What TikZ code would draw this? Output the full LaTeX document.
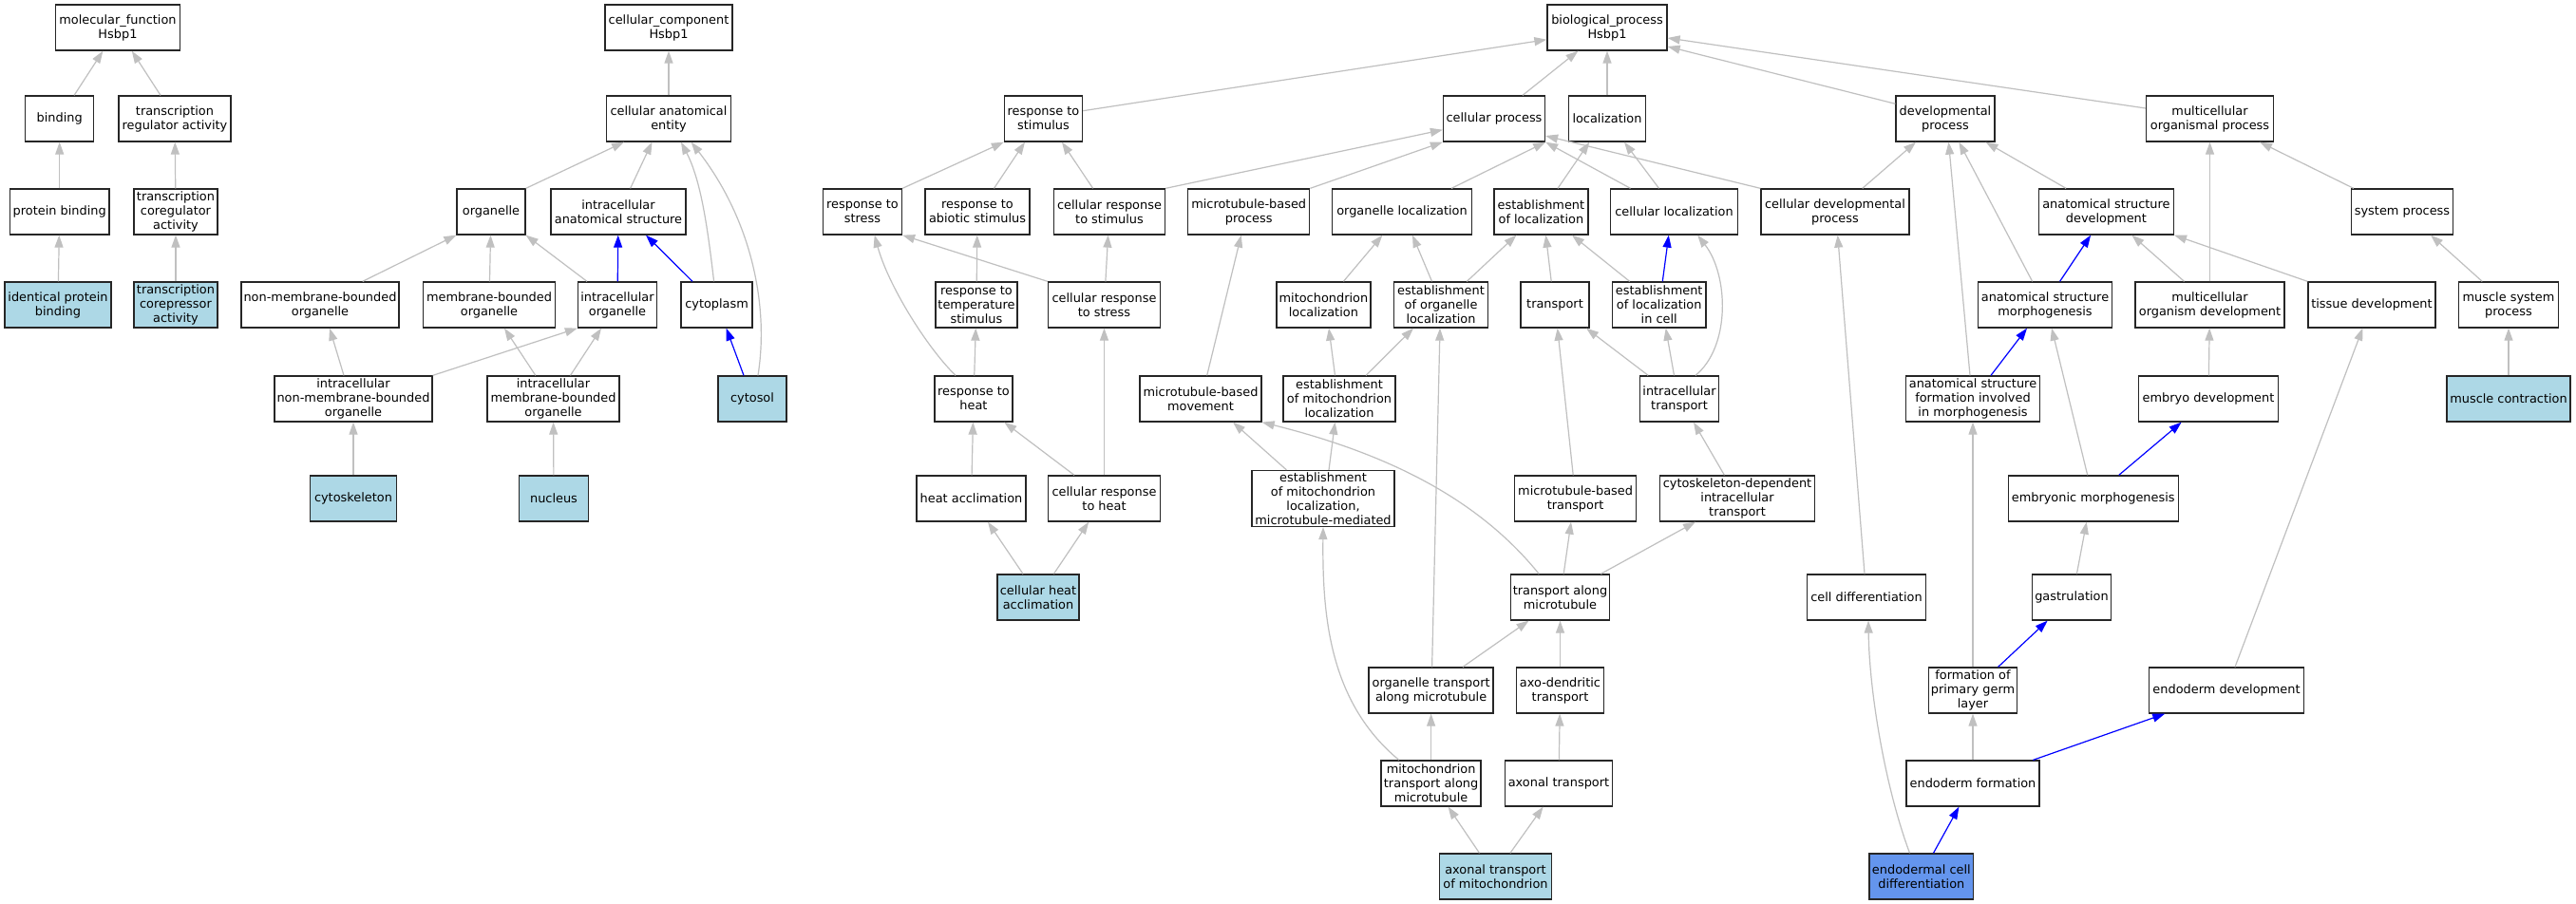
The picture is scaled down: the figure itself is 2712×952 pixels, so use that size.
\documentclass[tikz,border=0pt]{standalone}
\usepackage{fontspec}
\setmainfont{DejaVu Sans}
\usetikzlibrary{arrows.meta}
\definecolor{eg}{HTML}{C0C0C0}
\definecolor{lb}{HTML}{ADD8E6}
\definecolor{cb}{HTML}{6495ED}
\definecolor{bl}{HTML}{0000FF}
\tikzset{
  box/.style={draw=black!85, line width=1.3pt, rectangle, align=center, inner xsep=1pt, inner ysep=2pt,
    minimum height=48pt, font=\fontsize{12.9}{15}\selectfont, fill=white},
  hl/.style={fill=lb},
  hc/.style={fill=cb},
  ge/.style={draw=eg, line width=1.2pt, -{Triangle[length=13pt,width=9pt]}},
  be/.style={ge, draw=bl}
}
\begin{document}
\begin{tikzpicture}[x=1pt,y=-1pt]
\fill[white] (0,0) rectangle (2712,952);
\useasboundingbox (0,0) rectangle (2712,952);
% ---------- molecular function ----------
\node[box,minimum width=131pt] (mf) at (124,29) {molecular\_function\\Hsbp1};
\node[box,minimum width=72pt] (binding) at (62.7,125) {binding};
\node[box,minimum width=118pt] (trreg) at (184,125) {transcription\\regulator activity};
\node[box,minimum width=104.5pt] (protbind) at (62.7,223) {protein binding};
\node[box,minimum width=88pt] (trcoreg) at (185,223) {transcription\\coregulator\\activity};
\node[box,hl,minimum width=112pt] (idprot) at (61,321) {identical protein\\binding};
\node[box,hl,minimum width=88pt] (trcorep) at (185,321) {transcription\\corepressor\\activity};
% ---------- cellular component ----------
\node[box,minimum width=134pt] (cc) at (704,29) {cellular\_component\\Hsbp1};
\node[box,minimum width=131pt] (cae) at (704,125) {cellular anatomical\\entity};
\node[box,minimum width=72pt] (organelle) at (517,223) {organelle};
\node[box,minimum width=142pt] (ias) at (651,223) {intracellular\\anatomical structure};
\node[box,minimum width=166pt] (nmbo) at (337,321) {non-membrane-bounded\\organelle};
\node[box,minimum width=139pt] (mbo) at (515,321) {membrane-bounded\\organelle};
\node[box,minimum width=83pt] (io) at (650,321) {intracellular\\organelle};
\node[box,minimum width=75pt] (cytoplasm) at (754.6,321) {cytoplasm};
\node[box,minimum width=166pt] (inmbo) at (372,420) {intracellular\\non-membrane-bounded\\organelle};
\node[box,minimum width=139pt] (imbo) at (582.5,420) {intracellular\\membrane-bounded\\organelle};
\node[box,hl,minimum width=72pt] (cytosol) at (792,420) {cytosol};
\node[box,hl,minimum width=91pt] (cytoskeleton) at (372,525) {cytoskeleton};
\node[box,hl,minimum width=72.5pt] (nucleus) at (583,525) {nucleus};
% ---------- biological process ----------
\node[box,minimum width=126pt] (bp) at (1692,29) {biological\_process\\Hsbp1};
\node[box,minimum width=82pt] (rstim) at (1098.5,125) {response to\\stimulus};
\node[box,minimum width=107pt] (cp) at (1573,125) {cellular process};
\node[box,minimum width=81pt] (loc) at (1692,125) {localization};
\node[box,minimum width=104pt] (dev) at (2048,125) {developmental\\process};
\node[box,minimum width=134pt] (mop) at (2326.5,125) {multicellular\\organismal process};
\node[box,minimum width=83pt] (rstress) at (908,223) {response to\\stress};
\node[box,minimum width=110pt] (rabio) at (1029,223) {response to\\abiotic stimulus};
\node[box,minimum width=117pt] (crstim) at (1168,223) {cellular response\\to stimulus};
\node[box,minimum width=128pt] (mbp) at (1314.7,223) {microtubule-based\\process};
\node[box,minimum width=147pt] (orgloc) at (1476,223) {organelle localization};
\node[box,minimum width=99pt] (estloc) at (1622.4,223) {establishment\\of localization};
\node[box,minimum width=134pt] (cellloc) at (1762.5,223) {cellular localization};
\node[box,minimum width=156pt] (cdp) at (1932,223) {cellular developmental\\process};
\node[box,minimum width=142pt] (asd) at (2217.4,223) {anatomical structure\\development};
\node[box,minimum width=107pt] (sysp) at (2529,223) {system process};
\node[box,minimum width=86pt] (rtemp) at (1028,321) {response to\\temperature\\stimulus};
\node[box,minimum width=118pt] (crstress) at (1162.5,321) {cellular response\\to stress};
\node[box,minimum width=99pt] (mitoloc) at (1393.4,321) {mitochondrion\\localization};
\node[box,minimum width=98.4pt] (estorgloc) at (1517,321) {establishment\\of organelle\\localization};
\node[box,minimum width=72pt] (transport) at (1637,321) {transport};
\node[box,minimum width=98.5pt] (estlocc) at (1746.7,321) {establishment\\of localization\\in cell};
\node[box,minimum width=141pt] (asm) at (2153,321) {anatomical structure\\morphogenesis};
\node[box,minimum width=157pt] (mod) at (2326.5,321) {multicellular\\organism development};
\node[box,minimum width=134pt] (tissue) at (2497,321) {tissue development};
\node[box,minimum width=105pt] (msp) at (2641,321) {muscle system\\process};
\node[box,minimum width=82pt] (rheat) at (1025,420) {response to\\heat};
\node[box,minimum width=128pt] (mbm) at (1264,420) {microtubule-based\\movement};
\node[box,minimum width=118pt] (estmito) at (1410,420) {establishment\\of mitochondrion\\localization};
\node[box,minimum width=83pt] (itrans) at (1768,420) {intracellular\\transport};
\node[box,minimum width=141pt] (asf) at (2077,420) {anatomical structure\\formation involved\\in morphogenesis};
\node[box,minimum width=146.6pt] (embdev) at (2325,420) {embryo development};
\node[box,hl,minimum width=130pt] (muscle) at (2641,420) {muscle contraction};
\node[box,minimum width=115pt] (heatacc) at (1022.5,525) {heat acclimation};
\node[box,minimum width=118pt] (crheat) at (1162.5,525) {cellular response\\to heat};
\node[box,minimum width=150pt] (emlmm) at (1393,525) {establishment\\of mitochondrion\\localization,\\microtubule-mediated};
\node[box,minimum width=128pt] (mbt) at (1658.6,525) {microtubule-based\\transport};
\node[box,minimum width=163.5pt] (cdit) at (1829,525) {cytoskeleton-dependent\\intracellular\\transport};
\node[box,minimum width=179pt] (embmorph) at (2203.7,525) {embryonic morphogenesis};
\node[box,hl,minimum width=86pt] (cha) at (1093,629) {cellular heat\\acclimation};
\node[box,minimum width=104.5pt] (tam) at (1642.5,629) {transport along\\microtubule};
\node[box,minimum width=125pt] (celldiff) at (1965,629) {cell differentiation};
\node[box,minimum width=83pt] (gastr) at (2181,629) {gastrulation};
\node[box,minimum width=131pt] (otam) at (1506.6,727) {organelle transport\\along microtubule};
\node[box,minimum width=91.5pt] (axod) at (1642.5,727) {axo-dendritic\\transport};
\node[box,minimum width=93pt] (fpgl) at (2077,727) {formation of\\primary germ\\layer};
\node[box,minimum width=163pt] (endodev) at (2344,727) {endoderm development};
\node[box,minimum width=105pt] (mtam) at (1506.6,825) {mitochondrion\\transport along\\microtubule};
\node[box,minimum width=113pt] (axonal) at (1641,825) {axonal transport};
\node[box,minimum width=140pt] (endoform) at (2077,825) {endoderm formation};
\node[box,hl,minimum width=117.5pt] (atm) at (1574.5,923) {axonal transport\\of mitochondrion};
\node[box,hc,minimum width=109.5pt] (ecd) at (2022.8,923) {endodermal cell\\differentiation};
% ---------- MF edges ----------
\draw[ge] ([xshift=15.4pt]binding.north) -- ([xshift=-15.6pt]mf.south);
\draw[ge] ([xshift=-15pt]trreg.north) -- ([xshift=14.8pt]mf.south);
\draw[ge] (protbind) -- (binding);
\draw[ge] (trcoreg) -- (trreg);
\draw[ge] (idprot) -- (protbind);
\draw[ge] (trcorep) -- (trcoreg);
% ---------- CC edges ----------
\draw[ge] (cae) -- (cc);
\draw[ge] (organelle.north east) -- ([xshift=-47pt]cae.south);
\draw[ge] ([xshift=12.6pt]ias.north) -- ([xshift=-17.5pt]cae.south);
\draw[ge] ([xshift=-3pt]cytoplasm.north) .. controls (745,240) and (738,190) .. ([xshift=13pt]cae.south);
\draw[ge] ([xshift=6pt]cytosol.north) .. controls (810,320) and (790,230) .. ([xshift=23.7pt]cae.south);
\draw[ge] ([xshift=44.7pt]nmbo.north) -- (organelle.south west);
\draw[ge] (mbo) -- (organelle);
\draw[ge] ([xshift=-32pt]io.north) -- (organelle.south east);
\draw[be] (io) -- (ias);
\draw[be] ([xshift=-25.6pt]cytoplasm.north) -- ([xshift=29pt]ias.south);
\draw[be] ([xshift=-9pt]cytosol.north) -- ([xshift=10pt]cytoplasm.south);
\draw[ge] ([xshift=-10pt]inmbo.north) -- ([xshift=10pt]nmbo.south);
\draw[ge] (inmbo.north east) -- (io.south west);
\draw[ge] ([xshift=-18.7pt]imbo.north) -- ([xshift=16pt]mbo.south);
\draw[ge] ([xshift=18pt]imbo.north) -- ([xshift=-17pt]io.south);
\draw[ge] (cytoskeleton) -- (inmbo);
\draw[ge] (nucleus) -- (imbo);
% ---------- BP edges ----------
\draw[ge] ([yshift=8.3pt]rstim.east) -- ([yshift=-12.7pt]bp.west);
\draw[ge] ([xshift=30pt]cp.north) -- ([xshift=-30.6pt]bp.south);
\draw[ge] (loc) -- (bp);
\draw[ge] ([yshift=15.7pt]dev.west) -- ([yshift=-20pt]bp.east);
\draw[ge] ([yshift=11pt]mop.west) -- ([yshift=-11pt]bp.east);
\draw[ge] (rstress.north east) -- (rstim.south west);
\draw[ge] ([xshift=17.5pt]rabio.north) -- ([xshift=-19.5pt]rstim.south);
\draw[ge] ([xshift=-17.4pt]crstim.north) -- ([xshift=19.5pt]rstim.south);
\draw[ge] (crstim.north east) -- ([yshift=-11.7pt]cp.west);
\draw[ge] (mbp.north east) -- (cp.south west);
\draw[ge] ([xshift=52pt]orgloc.north) -- (cp.south east);
\draw[ge] ([xshift=17.6pt]estloc.north) -- ([xshift=-18.7pt]loc.south);
\draw[ge] ([xshift=-16pt]cellloc.north) -- ([xshift=18pt]loc.south);
\draw[ge] ([xshift=-46pt]cellloc.north) -- (cp.south east);
\draw[ge] (cdp.north west) -- ([yshift=-18pt]cp.east);
\draw[ge] ([xshift=28.7pt]cdp.north) -- ([xshift=-31pt]dev.south);
\draw[ge] ([xshift=21pt]mitoloc.north) -- ([xshift=-20.6pt]orgloc.south);
\draw[ge] ([xshift=-9.5pt]estorgloc.north) -- ([xshift=11pt]orgloc.south);
\draw[ge] ([xshift=27.3pt]estorgloc.north) -- ([xshift=-26pt]estloc.south);
\draw[ge] ([xshift=-3.8pt]transport.north) -- ([xshift=5pt]estloc.south);
\draw[ge] ([xshift=-31pt]estlocc.north) -- ([xshift=32.6pt]estloc.south);
\draw[be] ([xshift=3.6pt]estlocc.north) -- ([xshift=-5.7pt]cellloc.south);
\draw[ge] ([xshift=17pt]itrans.north) .. controls (1822,365) and (1820,290) .. ([xshift=24.7pt]cellloc.south);
\draw[ge] ([xshift=-32.8pt]itrans.north) -- ([xshift=33pt]transport.south);
\draw[ge] ([xshift=-5.5pt]itrans.north) -- ([xshift=7pt]estlocc.south);
\draw[ge] ([xshift=-4.5pt]estmito.north) -- ([xshift=5.6pt]mitoloc.south);
\draw[ge] ([xshift=28pt]estmito.north) -- ([xshift=-29pt]estorgloc.south);
\draw[ge] ([xshift=6pt]emlmm.north) -- ([xshift=-4.5pt]estmito.south);
\draw[ge] ([xshift=1pt]otam.north) -- ([xshift=-1pt]estorgloc.south);
\draw[ge] ([xshift=-22.3pt]tam.north) .. controls (1560,530) and (1470,480) .. (mbm.south east);
\draw[ge] ([xshift=-38.6pt]emlmm.north) -- ([xshift=34pt]mbm.south);
\draw[ge] ([xshift=6.7pt]mbm.north) -- ([xshift=-8pt]mbp.south);
\draw[ge] ([xshift=3.7pt]tam.north) -- ([xshift=-4.6pt]mbt.south);
\draw[ge] ([xshift=42.8pt]tam.north) -- ([xshift=-44pt]cdit.south);
\draw[ge] ([xshift=-2.4pt]mbt.north) -- ([xshift=2.7pt]transport.south);
\draw[ge] ([xshift=-13.6pt]cdit.north) -- ([xshift=15pt]itrans.south);
\draw[ge] ([xshift=33.4pt]otam.north) -- ([xshift=-33pt]tam.south);
\draw[ge] (axod) -- (tam);
\draw[ge] (mtam) -- (otam);
\draw[ge] ([xshift=-33.8pt]mtam.north) .. controls (1400,740) and (1392,650) .. (emlmm.south);
\draw[ge] (axonal) -- (axod);
\draw[ge] ([xshift=-17pt]atm.north) -- ([xshift=18pt]mtam.south);
\draw[ge] ([xshift=15.4pt]atm.north) -- ([xshift=-16.4pt]axonal.south);
% response branch
\draw[ge] ([xshift=-19pt]rheat.north) .. controls (975,365) and (935,300) .. ([xshift=12.7pt]rstress.south);
\draw[ge] (rtemp) -- (rabio);
\draw[ge] (crstress.north west) -- (rstress.south east);
\draw[ge] (crstress) -- (crstim);
\draw[ge] (rheat) -- (rtemp);
\draw[ge] (heatacc) -- (rheat);
\draw[ge] ([xshift=-31.5pt]crheat.north) -- ([xshift=32.3pt]rheat.south);
\draw[ge] (crheat) -- (crstress);
\draw[ge] ([xshift=-16pt]cha.north) -- ([xshift=17.5pt]heatacc.south);
\draw[ge] ([xshift=16.4pt]cha.north) -- ([xshift=-16.3pt]crheat.south);
% developmental branch
\draw[ge] ([xshift=-42.3pt]asd.north) -- ([xshift=42.5pt]dev.south);
\draw[ge] ([xshift=-13.4pt]asm.north) -- ([xshift=14.4pt]dev.south);
\draw[be] ([xshift=15.6pt]asm.north) -- ([xshift=-16.3pt]asd.south);
\draw[ge] ([xshift=-27pt]mod.north) -- ([xshift=27pt]asd.south);
\draw[ge] (mod) -- (mop);
\draw[ge] (tissue.north west) -- (asd.south east);
\draw[ge] ([xshift=3pt]sysp.north west) -- ([xshift=52.5pt]mop.south);
\draw[ge] ([xshift=-27.8pt]msp.north) -- ([xshift=30pt]sysp.south);
\draw[ge] (muscle) -- (msp);
\draw[ge] ([xshift=-3pt]asf.north) -- ([xshift=3.5pt]dev.south);
\draw[be] ([xshift=19pt]asf.north) -- ([xshift=-19pt]asm.south);
\draw[ge] ([xshift=-6pt]embmorph.north) -- ([xshift=7pt]asm.south);
\draw[be] ([xshift=27pt]embmorph.north) -- ([xshift=-28.4pt]embdev.south);
\draw[ge] ([xshift=5.4pt]gastr.north) -- ([xshift=-7pt]embmorph.south);
\draw[be] ([xshift=26.6pt]fpgl.north) -- ([xshift=-25.4pt]gastr.south);
\draw[ge] (fpgl) -- (asf);
\draw[ge] (endoform) -- (fpgl);
\draw[be] ([xshift=63.4pt]endoform.north) -- ([xshift=-64.8pt]endodev.south);
\draw[be] ([xshift=12.7pt]ecd.north) -- ([xshift=-14.6pt]endoform.south);
\draw[ge] ([xshift=-12.3pt]ecd.north) .. controls (1985,830) and (1968,730) .. ([xshift=2pt]celldiff.south);
\draw[ge] ([xshift=9pt]endodev.north) -- ([xshift=-9.6pt]tissue.south);
\draw[ge] ([xshift=-2pt]celldiff.north) -- ([xshift=2.7pt]cdp.south);
\draw[ge] (embdev) -- (mod);
\end{tikzpicture}
\end{document}
